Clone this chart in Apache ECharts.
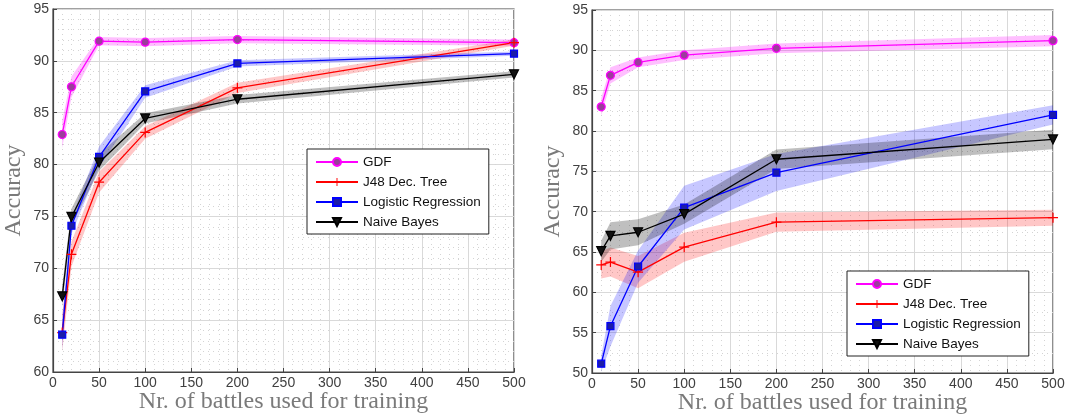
<!DOCTYPE html>
<html><head><meta charset="utf-8">
<script src="https://cdn.jsdelivr.net/npm/echarts@6/dist/echarts.min.js"></script>
<style>html,body{margin:0;padding:0;background:#fff}#c{width:1068px;height:417px}</style>
</head><body><div id="c"></div>
<script>
const battles = [10, 20, 50, 100, 200, 500];
const seriesNames = ['GDF', 'J48 Dec. Tree', 'Logistic Regression', 'Naive Bayes'];
const xTicks = [0, 50, 100, 150, 200, 250, 300, 350, 400, 450, 500];

// Left panel: means and std (shaded band half-width)
const leftGDF = [82.9, 87.5, 91.9, 91.8, 92.05, 91.75];
const leftGDFStd = [1.3, 1.0, 0.4, 0.4, 0.35, 0.3];
const leftJ48 = [63.8, 71.35, 78.3, 83.1, 87.4, 91.75];
const leftJ48Std = [1.8, 1.2, 1.0, 0.6, 0.5, 0.3];
const leftLR = [63.6, 74.1, 80.75, 87.05, 89.75, 90.7];
const leftLRStd = [1.5, 0.8, 1.0, 0.6, 0.3, 0.2];
const leftNB = [67.3, 74.95, 80.2, 84.45, 86.3, 88.7];
const leftNBStd = [1.0, 0.8, 0.8, 0.5, 0.4, 0.3];

// Right panel
const rightGDF = [83.0, 86.9, 88.5, 89.4, 90.25, 91.2];
const rightGDFStd = [1.1, 1.0, 0.6, 0.6, 0.6, 0.7];
const rightJ48 = [63.4, 63.75, 62.5, 65.6, 68.7, 69.25];
const rightJ48Std = [1.7, 1.8, 2.0, 1.8, 1.2, 1.0];
const rightLR = [51.15, 55.8, 63.2, 70.5, 74.85, 82.0];
const rightLRStd = [1.0, 2.5, 2.0, 2.7, 2.3, 1.2];
const rightNB = [65.1, 67.0, 67.45, 69.7, 76.5, 78.95];
const rightNBStd = [1.3, 1.7, 1.6, 1.2, 1.2, 1.2];

const lineColors = ['#ff00ff', '#ff0000', '#0000ff', '#000000'];
const markerFill = ['#9b3d9b', '#ff0000', '#1c1ca8', '#111111'];
const bandColors = ['rgba(255,0,255,0.25)', 'rgba(255,0,0,0.22)', 'rgba(0,0,255,0.22)', 'rgba(0,0,0,0.25)'];
const plusPath = 'path://M0,4.4H10V5.6H0Z M4.4,0H5.6V10H4.4Z';
const symbols = ['circle', plusPath, 'rect', 'triangle'];
const symbolSizes = [8, 10, 7, 9];
const symbolRot = [0, 0, 0, 180];

function bandSeries(axis, mean, std, color) {
  return {
    type: 'custom', xAxisIndex: axis, yAxisIndex: axis, silent: true, z: 1,
    data: [[battles[0], mean[0]]],
    renderItem: function (params, api) {
      const pts = [];
      for (let i = 0; i < battles.length; i++) pts.push(api.coord([battles[i], mean[i] - std[i]]));
      for (let i = battles.length - 1; i >= 0; i--) pts.push(api.coord([battles[i], mean[i] + std[i]]));
      return { type: 'polygon', shape: { points: pts }, style: { fill: color } };
    }
  };
}
function lineSeries(axis, k, mean) {
  return {
    type: 'line', name: seriesNames[k], xAxisIndex: axis, yAxisIndex: axis, z: 3,
    data: battles.map((b, i) => [b, mean[i]]),
    symbol: symbols[k], symbolSize: symbolSizes[k], symbolRotate: symbolRot[k],
    showSymbol: true, animation: false,
    lineStyle: { color: lineColors[k], width: 1.3 },
    itemStyle: { color: markerFill[k], borderColor: lineColors[k], borderWidth: k === 1 ? 0 : 1.2 }
  };
}
const gridLine = { show: true, lineStyle: { color: '#d9d9d9', width: 1 } };
const minorLine = { show: true, lineStyle: { color: '#d4d4d4', type: [1, 4], width: 1 } };
const tickLabel = { color: '#404040', fontSize: 14, fontFamily: 'Liberation Sans, Arial, sans-serif' };
const nameStyle = { color: '#7a7a7a', fontSize: 24, fontFamily: 'Liberation Serif, DejaVu Serif, serif' };

function xAxis(gi) {
  return {
    type: 'value', gridIndex: gi, min: 0, max: 500, interval: 50,
    name: 'Nr. of battles used for training', nameLocation: 'middle', nameGap: 18,
    nameMoveOverlap: false, nameTextStyle: nameStyle,
    axisLine: { show: true, onZero: false, lineStyle: { color: '#444', width: 1.2 } },
    axisTick: { show: true, inside: true, length: 4, lineStyle: { color: '#444' } },
    axisLabel: Object.assign({ margin: 4 }, tickLabel),
    splitLine: gridLine,
    minorTick: { show: false, splitNumber: 5 },
    minorSplitLine: minorLine
  };
}
function yAxis(gi, min, minorSplit) {
  return {
    type: 'value', gridIndex: gi, min: min, max: 95, interval: 5,
    name: 'Accuracy', nameLocation: 'middle', nameGap: 27, nameTextStyle: nameStyle,
    axisLine: { show: true, onZero: false, lineStyle: { color: '#444', width: 1.2 } },
    axisTick: { show: true, inside: true, length: 4, lineStyle: { color: '#444' } },
    axisLabel: Object.assign({ margin: 4 }, tickLabel),
    splitLine: gridLine,
    minorTick: { show: false, splitNumber: minorSplit },
    minorSplitLine: minorLine
  };
}
function legend(left, top) {
  return {
    data: seriesNames, orient: 'vertical', left: left, top: top,
    itemWidth: 42, itemHeight: 10, itemGap: 6,
    padding: [6, 8, 5, 8],
    backgroundColor: '#fff', borderColor: '#222', borderWidth: 1, borderRadius: 0,
    textStyle: { color: '#111', fontSize: 13.5, fontFamily: 'Liberation Sans, Arial, sans-serif' },
    selectedMode: false
  };
}

const chart = echarts.init(document.getElementById('c'), null, { renderer: 'canvas' });
const leftMeans = [leftGDF, leftJ48, leftLR, leftNB];
const leftStds = [leftGDFStd, leftJ48Std, leftLRStd, leftNBStd];
const rightMeans = [rightGDF, rightJ48, rightLR, rightNB];
const rightStds = [rightGDFStd, rightJ48Std, rightLRStd, rightNBStd];
const series = [];
for (let k = 0; k < 4; k++) series.push(bandSeries(0, leftMeans[k], leftStds[k], bandColors[k]));
for (let k = 0; k < 4; k++) series.push(bandSeries(1, rightMeans[k], rightStds[k], bandColors[k]));
for (let k = 0; k < 4; k++) series.push(lineSeries(0, k, leftMeans[k]));
for (let k = 0; k < 4; k++) series.push(lineSeries(1, k, rightMeans[k]));

chart.setOption({
  backgroundColor: '#fff',
  animation: false,
  grid: [
    { left: 53, top: 9, width: 461, height: 363, containLabel: false, outerBoundsMode: 'none', show: true, borderColor: '#444', borderWidth: 1.2, backgroundColor: 'transparent' },
    { left: 592, top: 10, width: 461, height: 363, containLabel: false, outerBoundsMode: 'none', show: true, borderColor: '#444', borderWidth: 1.2, backgroundColor: 'transparent' }
  ],
  xAxis: [xAxis(0), xAxis(1)],
  yAxis: [yAxis(0, 60, 5), yAxis(1, 50, 2)],
  legend: [legend(307, 149), legend(847, 271)],
  series: series
});
</script></body></html>
